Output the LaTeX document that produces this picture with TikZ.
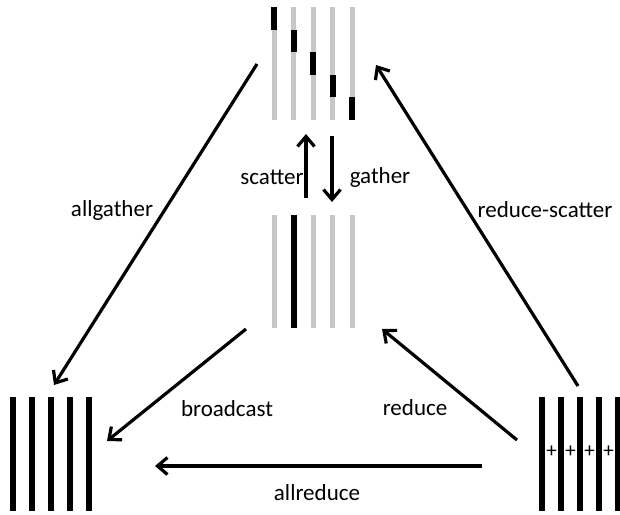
\documentclass[tikz,border=0pt]{standalone}
\usepackage{fontspec}
\setmainfont{Carlito}
\usetikzlibrary{arrows.meta}
\begin{document}
\begin{tikzpicture}[x=1pt, y=-1pt,
  lbl/.style={font=\fontsize{23}{26}\selectfont},
  op/.style={line width=3.2pt, -{Straight Barb[length=10pt,width=17pt]}}]
\useasboundingbox (0,0) rectangle (620,514);
\foreach \i in {0,...,4} {
  \fill [black!22] (271.5+19.5*\i,7) rectangle +(5,113);
  \fill (271+19.5*\i,7+22.6*\i) rectangle +(6,22.6);
  \fill [black!22] (271.5+19.5*\i,215) rectangle +(5,113);
  \fill (10+19*\i,397) rectangle +(6,114);
  \fill (539+19*\i,397) rectangle +(6,114);
}
\fill (290.5,215) rectangle +(6,113);
\foreach \i in {0,...,3}
  \node (plus\i) [font=\fontsize{21}{24}\selectfont] at (551.5+19*\i,452) {+};
\coordinate (ag-a) at (257,64);  \coordinate (ag-b) at (54,385);
\coordinate (rs-a) at (578,386); \coordinate (rs-b) at (376,65);
\coordinate (sc-a) at (306,198); \coordinate (sc-b) at (306,134);
\coordinate (ga-a) at (332,136); \coordinate (ga-b) at (332,202);
\coordinate (bc-a) at (246,329); \coordinate (bc-b) at (107,441);
\coordinate (rd-a) at (517,440); \coordinate (rd-b) at (382,329);
\coordinate (ar-a) at (482,466); \coordinate (ar-b) at (155,466);
\draw [op] (ag-a) -- (ag-b);
\draw [op] (rs-a) -- (rs-b);
\draw [op] (sc-a) -- (sc-b);
\draw [op] (ga-a) -- (ga-b);
\draw [op] (bc-a) -- (bc-b);
\draw [op] (rd-a) -- (rd-b);
\draw [op] (ar-a) -- (ar-b);
\node (allgather) [lbl] at (112,210) {allgather};
\node (redscatter) [lbl] at (545,210) {reduce-scatter};
\node (scatter) [lbl] at (272,177) {scatter};
\node (gather) [lbl] at (380,177) {gather};
\node (broadcast) [lbl] at (227,409) {broadcast};
\node (reduce) [lbl] at (415,408) {reduce};
\node (allreduce) [lbl] at (317,493) {allreduce};
\end{tikzpicture}
\end{document}
